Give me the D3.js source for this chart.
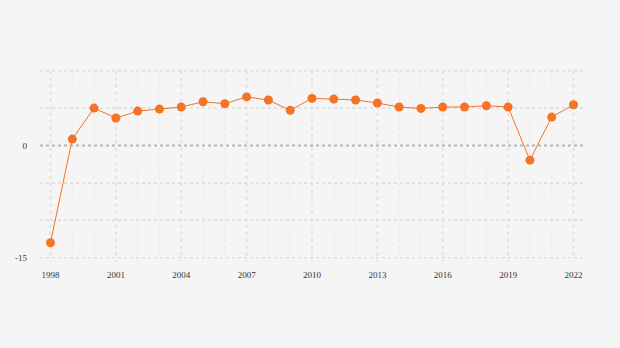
<!DOCTYPE html>
<html>
<head>
<meta charset="utf-8">
<script src="https://cdn.jsdelivr.net/npm/d3@7"></script>
<style>
html,body{margin:0;padding:0;background:#f5f5f5;}
svg{display:block;}
text{font-family:"Liberation Serif","DejaVu Serif",serif;font-size:9px;fill:#333;}
</style>
</head>
<body>
<svg id="chart" width="620" height="348"></svg>
<script>
const years = [1998,1999,2000,2001,2002,2003,2004,2005,2006,2007,2008,2009,2010,2011,2012,2013,2014,2015,2016,2017,2018,2019,2020,2021,2022];
const growth = [-13.0,0.86,5.0,3.67,4.6,4.87,5.14,5.85,5.58,6.5,6.08,4.7,6.3,6.2,6.08,5.68,5.14,4.96,5.14,5.14,5.32,5.14,-1.96,3.8,5.45];
const yTicks = [-15,-10,-5,0,5,10];
const yLabels = [-15,0];
const xLabelYears = [1998,2001,2004,2007,2010,2013,2016,2019,2022];

const svg = d3.select("#chart");
const x = d3.scaleLinear().domain([1998,2022]).range([50.5,573.5]);
const y = d3.scaleLinear().domain([-15,10]).range([257.7,70.7]);
const gridLeft = 40, gridRight = 585;

// vertical grid
svg.append("g").selectAll("line").data(years).join("line")
  .attr("x1",d=>x(d)).attr("x2",d=>x(d))
  .attr("y1",y(10)).attr("y2",y(-15)+4)
  .attr("stroke",d=>xLabelYears.includes(d)?"#e2e2e2":"#ebebeb")
  .attr("stroke-width",d=>xLabelYears.includes(d)?2:1.5)
  .attr("stroke-dasharray","3,4");

// horizontal grid
svg.append("g").selectAll("line").data(yTicks).join("line")
  .attr("x1",gridLeft).attr("x2",gridRight)
  .attr("y1",d=>y(d)).attr("y2",d=>y(d))
  .attr("stroke",d=>d===0?"#b5b5b5":"#e0e0e0")
  .attr("stroke-width",d=>d===-15?1.5:2)
  .attr("stroke-dasharray","3,3");

// y labels
svg.append("g").selectAll("text").data(yLabels).join("text")
  .attr("x",27).attr("y",d=>y(d)).attr("dy","0.35em")
  .attr("text-anchor","end").text(d=>d);

// x labels
svg.append("g").selectAll("text").data(xLabelYears).join("text")
  .attr("x",d=>x(d)).attr("y",275).attr("dy","0.35em")
  .attr("text-anchor","middle").text(d=>d);

// line
const data = years.map((d,i)=>({year:d,v:growth[i]}));
svg.append("path").datum(data)
  .attr("fill","none").attr("stroke","#f47325").attr("stroke-width",1)
  .attr("d",d3.line().x(d=>x(d.year)).y(d=>y(d.v)));

svg.append("g").selectAll("circle").data(data).join("circle")
  .attr("cx",d=>x(d.year)).attr("cy",d=>y(d.v)).attr("r",4.5)
  .attr("fill","#f47325");
</script>
</body>
</html>
